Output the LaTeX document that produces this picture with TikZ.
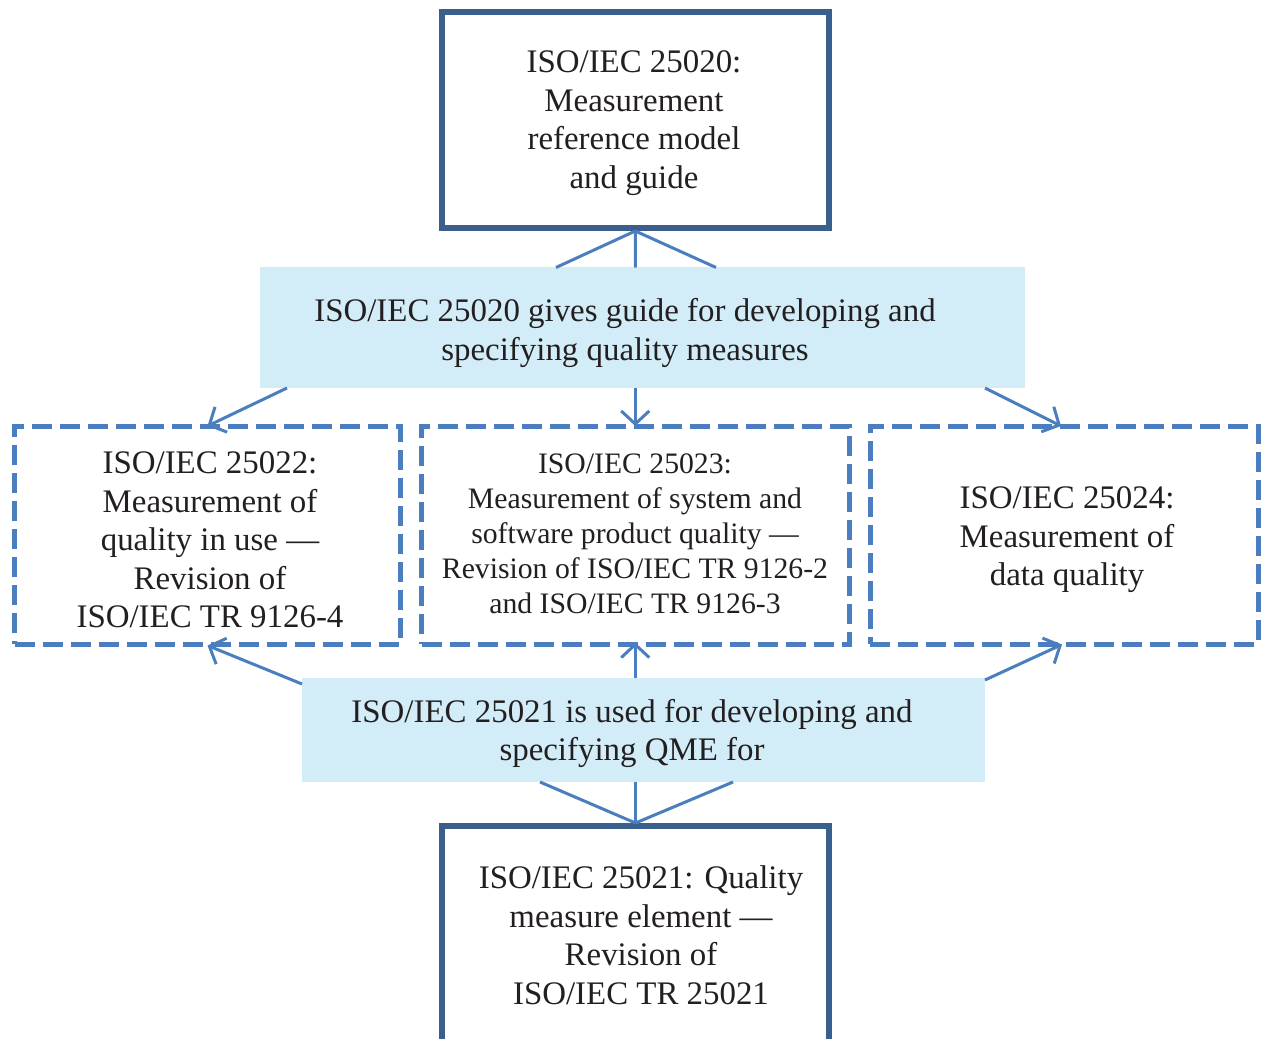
\documentclass[tikz,border=0pt]{standalone}
\usepackage{fontspec}
\setmainfont{Liberation Serif}
\usetikzlibrary{arrows.meta}
\definecolor{boxblue}{HTML}{3A5F8C}
\definecolor{lineblue}{HTML}{4A7EBE}
\definecolor{bandfill}{HTML}{D3EDF8}
\definecolor{txt}{HTML}{231F20}
\begin{document}
\begin{tikzpicture}[x=1pt,y=-1pt,
 solidbox/.style={draw=boxblue,line width=6pt,fill=white,inner sep=0pt,minimum width=387.5pt},
 dashbox/.style={draw=lineblue,line width=5pt,dash pattern=on 20pt off 8pt,inner sep=0pt,minimum height=217.5pt},
 band/.style={fill=bandfill,inner sep=0pt},
 lbl/.style={text=txt,align=center,inner sep=0pt,font=\fontsize{32.9}{38.5}\selectfont},
 smalllbl/.style={text=txt,align=center,inner sep=0pt,font=\fontsize{29.7}{35}\selectfont},
 conn/.style={draw=lineblue,line width=3pt},
 arr/.style={conn,-{Straight Barb[length=13pt,width=28pt,line width=3pt]}}
]
\clip (0,0) rectangle (1264,1039);
\fill[white] (0,0) rectangle (1264,1039);

% boxes
\node[solidbox,minimum height=216pt] (top) at (635.25,120) {};
\node[lbl] (toptext) at (634,123) {ISO/IEC 25020:\\Measurement\\reference model\\and guide};

\node[band,minimum width=765pt,minimum height=121pt] (band1) at (642.5,327.5) {};
\node[lbl] (band1text) at (625,333) {ISO/IEC 25020 gives guide for developing and\\specifying quality measures};

\node[dashbox,minimum width=386pt] (box1) at (207.5,535.25) {};
\node[dashbox,minimum width=427.5pt] (box2) at (635.25,535.25) {};
\node[dashbox,minimum width=388pt] (box3) at (1064,535.25) {};
\node[lbl] (box1text) at (210,540) {ISO/IEC 25022:\\Measurement of\\quality in use —\\Revision of\\ISO/IEC TR 9126-4};
\node[smalllbl] (box2text) at (635,534) {ISO/IEC 25023:\\Measurement of system and\\software product quality —\\Revision of ISO/IEC TR 9126-2\\and ISO/IEC TR 9126-3};
\node[lbl] (box3text) at (1067,540) {ISO/IEC 25024:\\Measurement of\\data quality};

\node[band,minimum width=683pt,minimum height=104pt] (band2) at (643.5,730) {};
\node[lbl] (band2text) at (632,733.5) {ISO/IEC 25021 is used for developing and\\specifying QME for};

\node[solidbox,minimum height=240pt] (bot) at (635.5,946) {};
\node[lbl] (bottext) at (641,935) {ISO/IEC 25021: Quality\\measure element —\\Revision of\\ISO/IEC TR 25021};

% free ends of connectors
\coordinate (t1) at (556,267.5);
\coordinate (t2) at (635.5,267.5);
\coordinate (t3) at (716,267.5);
\coordinate (u1) at (287,388);
\coordinate (u2) at (635.25,388);
\coordinate (u3) at (985,388);
\coordinate (l1) at (302,684);
\coordinate (l2) at (635.25,678);
\coordinate (l3) at (985,680);
\coordinate (b1) at (540,782);
\coordinate (b2) at (635.5,782);
\coordinate (b3) at (733,782);

% connectors
\draw[conn] (top.south) -- (t1);
\draw[conn] (top.south) -- (t2);
\draw[conn] (top.south) -- (t3);

\draw[arr] (u1) -- ([yshift=-2pt]box1.north);
\draw[arr] (u2) -- ([yshift=-2pt]box2.north);
\draw[arr] (u3) -- ([xshift=-3pt,yshift=-2pt]box3.north);

\draw[arr] (l1) -- ([yshift=1pt]box1.south);
\draw[arr] (l2) -- ([yshift=4pt]box2.south);
\draw[arr] (l3) -- ([xshift=-2pt,yshift=2pt]box3.south);

\draw[conn] (b1) -- (bot.north);
\draw[conn] (b2) -- (bot.north);
\draw[conn] (b3) -- (bot.north);
\end{tikzpicture}
\end{document}
